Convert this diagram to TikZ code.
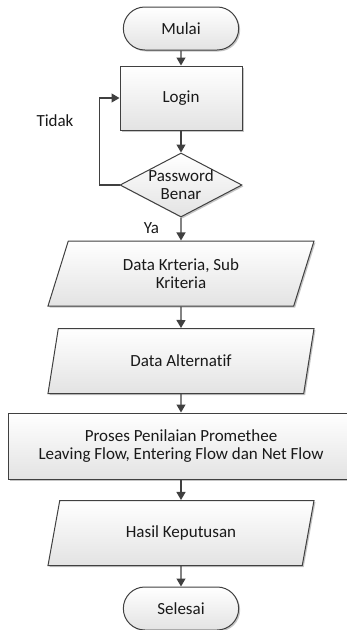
\documentclass[tikz,border=0pt]{standalone}
\usepackage{fontspec}
\setmainfont{Carlito}[Ligatures={NoCommon}]
\usetikzlibrary{shapes.geometric,shapes.misc,shadows,arrows.meta}
\definecolor{garis}{HTML}{404040}

\begin{document}
\begin{tikzpicture}[x=1pt,y=-1pt,
  kotak/.style={draw=garis,line width=1pt,top color=white,bottom color=black!11,
    drop shadow={shadow xshift=1.5pt,shadow yshift=-1.5pt,fill=black!45,opacity=.5},
    font=\fontsize{17}{18}\selectfont,text=black!90,align=center},
  mulaiselesai/.style={kotak,rounded rectangle,minimum width=122pt,minimum height=43pt},
  proses/.style={kotak,rectangle,minimum height=64pt},
  keputusan/.style={kotak,diamond,aspect=1.9,inner sep=-2pt,minimum width=122pt,minimum height=64pt},
  data/.style={kotak,trapezium,trapezium left angle=61,trapezium right angle=119,
    trapezium stretches body,minimum width=266pt,minimum height=65pt},
  panah/.style={draw=garis,line width=1.2pt,-{Triangle[length=8pt,width=9pt]}},
  tulisan/.style={font=\fontsize{17}{18}\selectfont,text=black!90}]
\useasboundingbox (0,0) rectangle (347,630);
\clip (0,0) rectangle (347,630);
\node[mulaiselesai] (mulai) at (181,28.5) {Mulai};
\node[proses,minimum width=122pt] (login) at (181,98) {Login};
\node[keputusan] (password) at (181,185) {Password\\Benar};
\node[data] (kriteria) at (181,273.5) {Data Krteria, Sub\\Kriteria};
\node[data] (alternatif) at (181,361) {Data Alternatif};
\node[proses,minimum width=346pt,minimum height=66pt] (promethee) at (181,446)
  {Proses Penilaian Promethee\\Leaving Flow, Entering Flow dan Net Flow};
\node[data] (hasil) at (181,533) {Hasil Keputusan};
\node[mulaiselesai] (selesai) at (181,608.5) {Selesai};
\node[tulisan] (tidak) at (55,121) {Tidak};
\draw[panah] (mulai) -- (login);
\draw[panah] (login) -- (password);
\draw[panah] (password.west) -- ++(-20,0) |- (login.west);
\draw[panah] (password) -- (kriteria) node[tulisan,pos=0.45,left=18pt] (ya) {Ya};
\draw[panah] (kriteria) -- (alternatif);
\draw[panah] (alternatif) -- (promethee);
\draw[panah] (promethee) -- (hasil);
\draw[panah] (hasil) -- (selesai);
\end{tikzpicture}
\end{document}
